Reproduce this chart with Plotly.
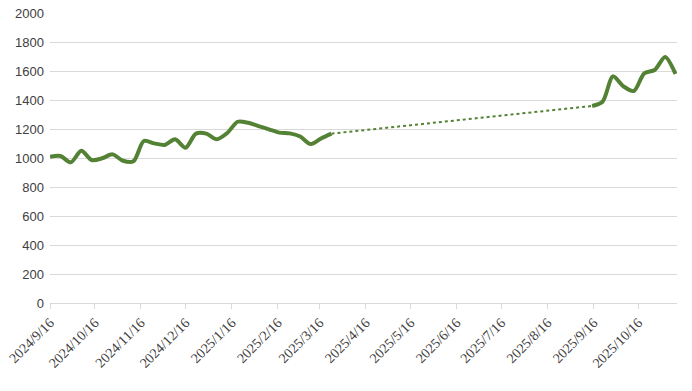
import pandas as pd
import plotly.graph_objects as go

# Weekly series (Mondays)
dates_a = pd.date_range("2024-09-16", periods=28, freq="7D").strftime("%Y-%m-%d").tolist()
values_a = [1009, 1014, 970, 1050, 986, 998, 1025, 981, 977, 1117,
            1101, 1090, 1129, 1071, 1168, 1168, 1129, 1172, 1250, 1243,
            1220, 1198, 1175, 1170, 1148, 1096, 1135, 1168]

dates_b = pd.date_range("2025-09-15", periods=9, freq="7D").strftime("%Y-%m-%d").tolist()
values_b = [1359, 1388, 1563, 1494, 1462, 1584, 1607, 1697, 1580]

tick_dates = ["2024-09-16", "2024-10-16", "2024-11-16", "2024-12-16", "2025-01-16",
              "2025-02-16", "2025-03-16", "2025-04-16", "2025-05-16", "2025-06-16",
              "2025-07-16", "2025-08-16", "2025-09-16", "2025-10-16"]
tick_labels = ["2024/9/16", "2024/10/16", "2024/11/16", "2024/12/16", "2025/1/16",
               "2025/2/16", "2025/3/16", "2025/4/16", "2025/5/16", "2025/6/16",
               "2025/7/16", "2025/8/16", "2025/9/16", "2025/10/16"]

green = "#548235"

fig = go.Figure()
fig.add_trace(go.Scatter(x=[dates_a[-1], dates_b[0]], y=[values_a[-1], values_b[0]],
                         mode="lines", line=dict(color=green, width=2, dash="dot"),
                         hoverinfo="skip", showlegend=False))
fig.add_trace(go.Scatter(x=dates_a, y=values_a, mode="lines",
                         line=dict(color=green, width=4, shape="spline", smoothing=0.8),
                         showlegend=False))
fig.add_trace(go.Scatter(x=dates_b, y=values_b, mode="lines",
                         line=dict(color=green, width=4, shape="spline", smoothing=0.8),
                         showlegend=False))

fig.update_layout(
    width=692, height=391,
    margin=dict(l=50, r=15, t=13, b=88),
    paper_bgcolor="white", plot_bgcolor="white",
    showlegend=False,
)
fig.update_xaxes(
    type="date", range=["2024-09-16", "2025-11-11"], automargin=False,
    tickvals=tick_dates, ticktext=tick_labels, tickangle=-45,
    ticklabeloverflow="allow",
    tickfont=dict(family="Liberation Serif", size=14, color="#404040"),
    showgrid=False, showline=True, linecolor="#d9d9d9", linewidth=1,
    ticks="outside", ticklen=5, tickcolor="#d9d9d9", zeroline=False,
)
fig.update_yaxes(
    range=[0, 2000], dtick=200, automargin=False,
    ticklabeloverflow="allow",
    tickfont=dict(family="Liberation Sans", size=13, color="#404040"),
    showgrid=True, gridcolor="#d9d9d9", gridwidth=1, zeroline=False,
    ticks="", ticklabelstandoff=5,
)

fig.write_html("out.html",
               config={"displayModeBar": False},
               post_script="document.body.style.margin='0';document.body.style.overflow='hidden';")
